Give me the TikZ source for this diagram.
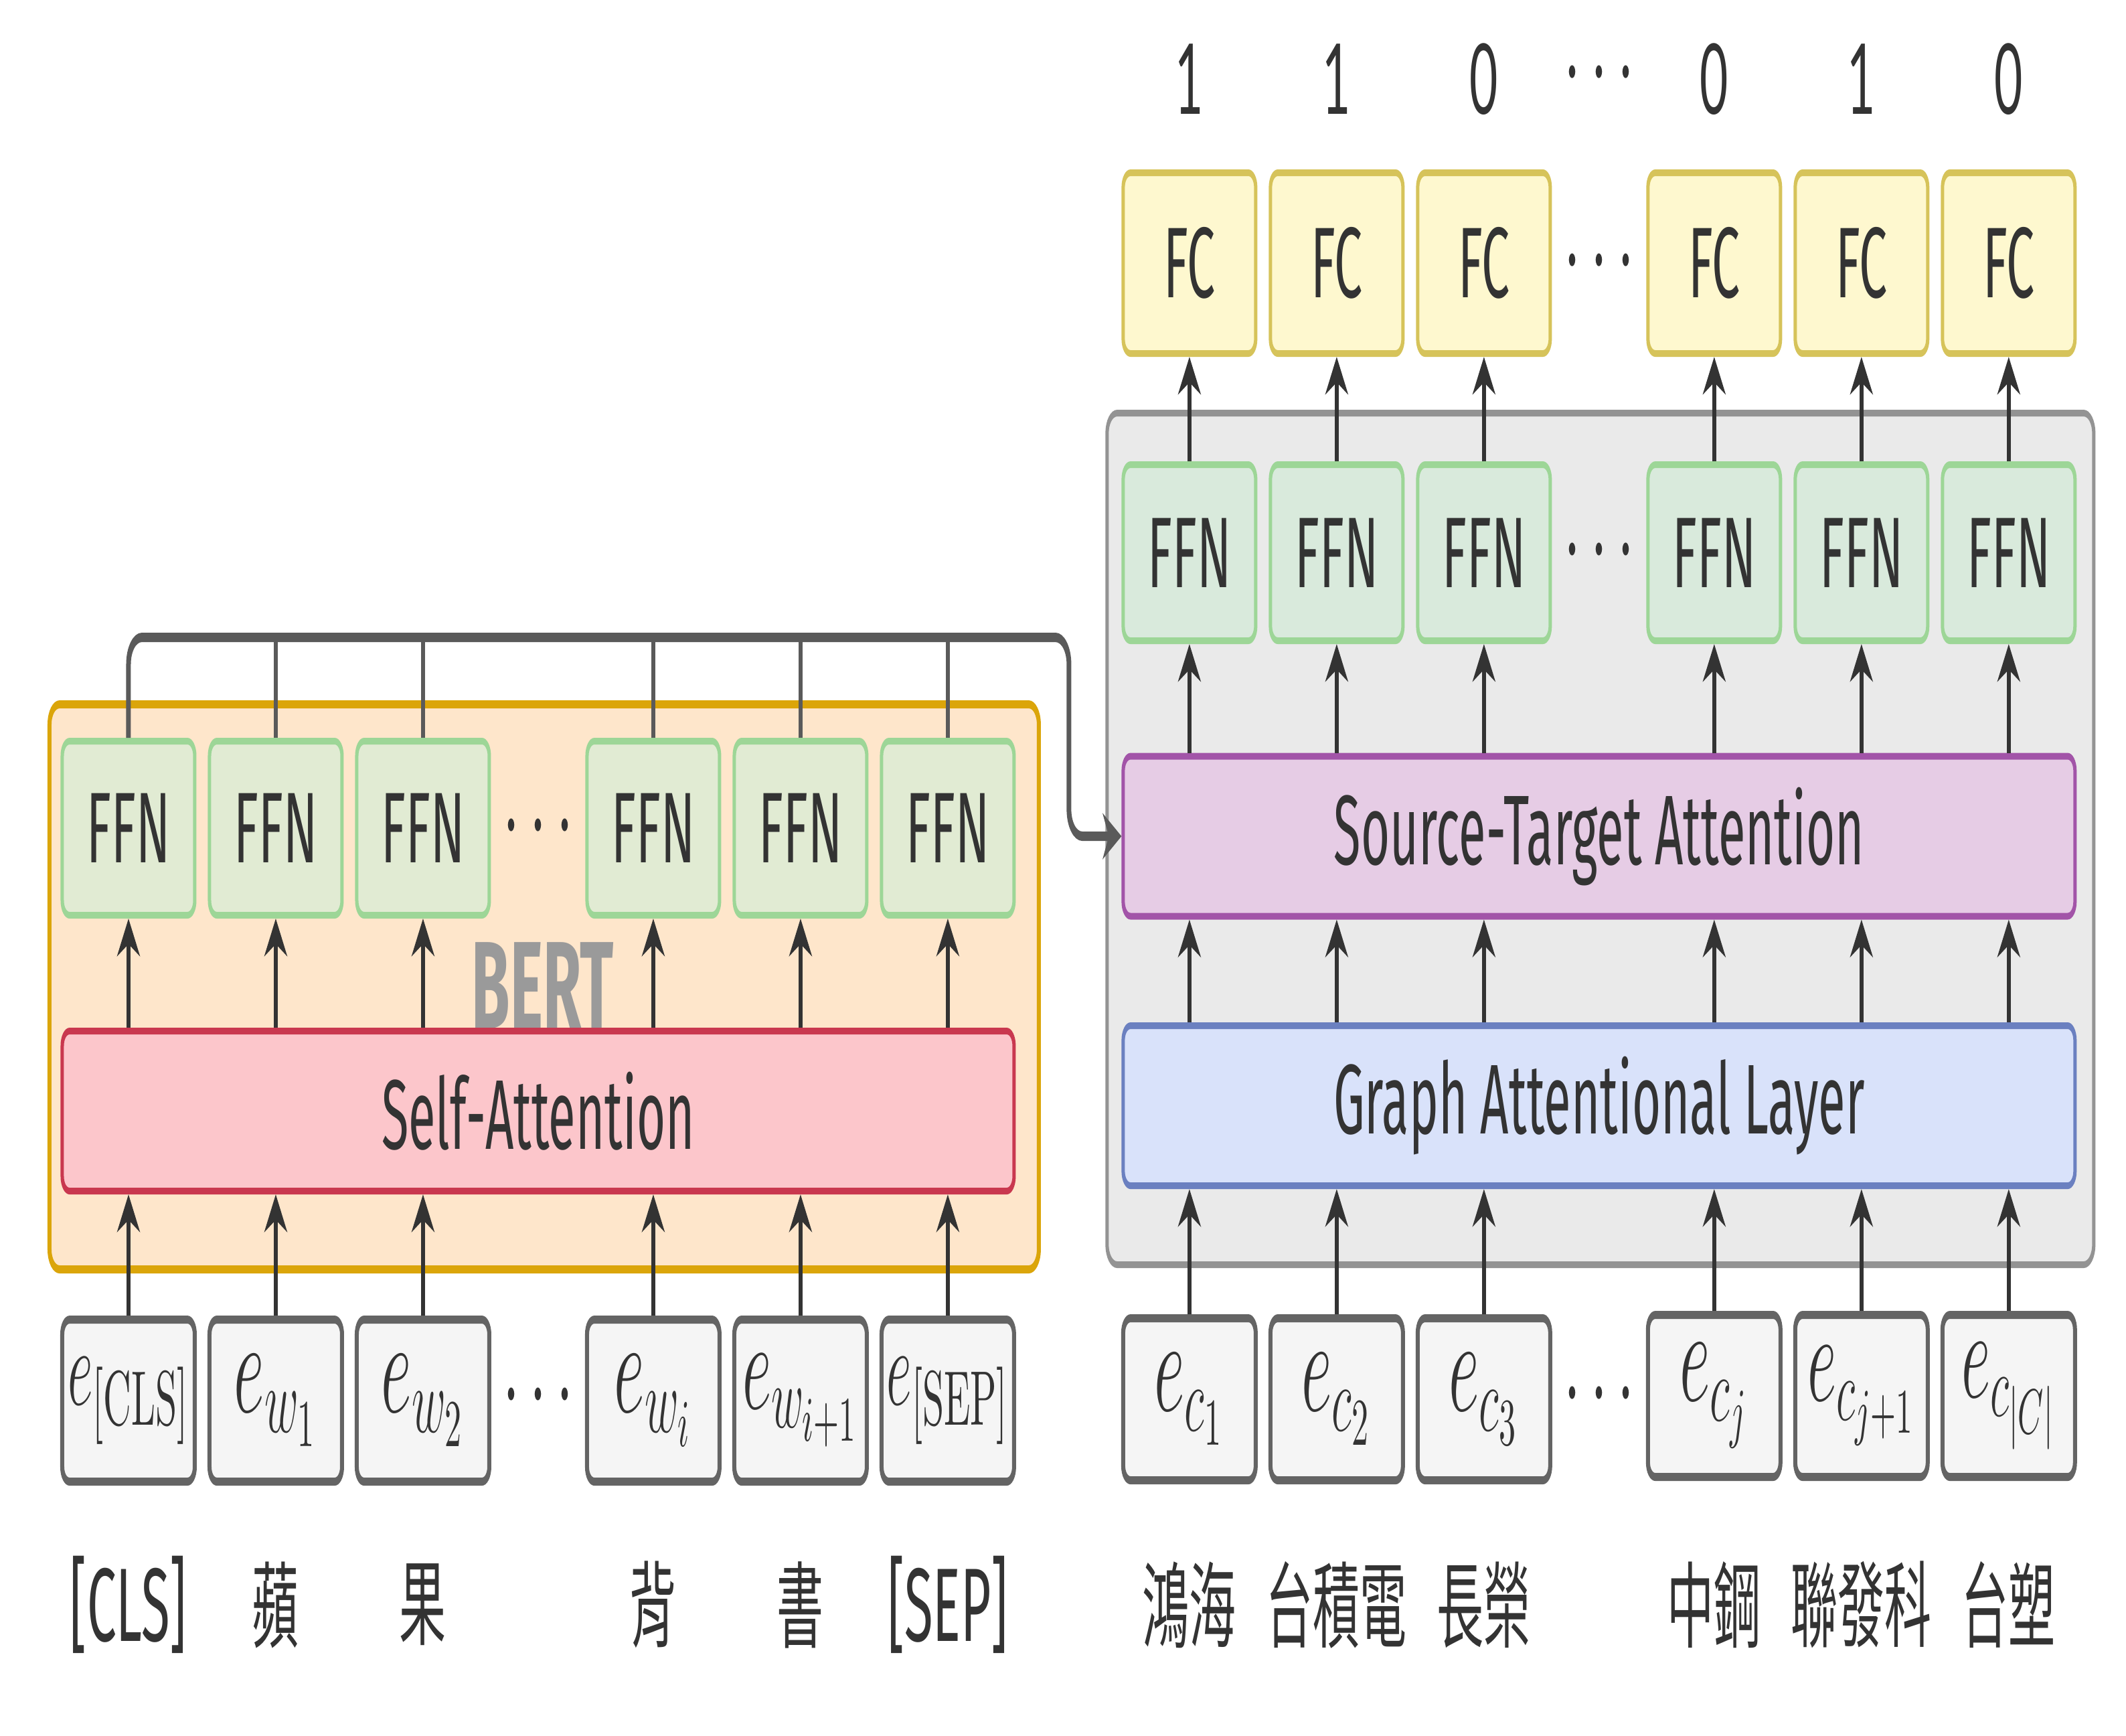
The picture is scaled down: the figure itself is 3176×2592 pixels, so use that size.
\RequirePackage{fix-cm}
\documentclass[tikz,border=0pt]{standalone}
\usepackage[no-math]{fontspec}
\setmainfont{Fira Sans}
\newfontfamily\cjk{Noto Sans CJK TC}
\newfontfamily\digitfont{Lato}
\usetikzlibrary{arrows.meta}
\definecolor{ffnfillL}{HTML}{E1EBD3}
\definecolor{ffnfillR}{HTML}{D9EADC}
\definecolor{ffnline}{HTML}{9DD697}
\definecolor{fcfill}{HTML}{FEF8CF}
\definecolor{fcline}{HTML}{D6C35A}
\definecolor{bertfill}{HTML}{FEE6CB}
\definecolor{bertline}{HTML}{DBA50A}
\definecolor{safill}{HTML}{FCC6CB}
\definecolor{saline}{HTML}{C9384F}
\definecolor{stfill}{HTML}{E6CCE5}
\definecolor{stline}{HTML}{A254A8}
\definecolor{galfill}{HTML}{D9E2FA}
\definecolor{galline}{HTML}{6B80C0}
\definecolor{grayfill}{HTML}{EAEAEA}
\definecolor{grayline}{HTML}{939393}
\definecolor{efill}{HTML}{F5F5F5}
\definecolor{eline}{HTML}{646464}
\definecolor{txt}{HTML}{333333}
\definecolor{arrc}{HTML}{333333}
\definecolor{connc}{HTML}{5A5A5A}
\definecolor{bertc}{HTML}{9A9A9A}
\tikzset{
  sbox/.style={draw, rounded corners=2.2pt, line width=1pt, minimum width=39.6pt,
    minimum height=26pt, inner sep=0pt, text=txt, font=\fontsize{15}{16}\selectfont},
  ffnL/.style={sbox, draw=ffnline, fill=ffnfillL},
  ffnR/.style={sbox, draw=ffnline, fill=ffnfillR, minimum height=26.3pt},
  fcbox/.style={sbox, draw=fcline, fill=fcfill, minimum height=27pt},
  ebox/.style={sbox, draw=eline, fill=efill, line width=1.2pt, minimum height=24.2pt},
  wide/.style={draw, rounded corners=2.2pt, line width=1pt, minimum width=284.4pt,
    minimum height=23.9pt, inner sep=0pt, text=txt, font=\fontsize{14.8}{16}\selectfont},
  container/.style={draw, rounded corners=3pt, inner sep=0pt},
  arr/.style={draw=arrc, line width=1.2pt, -{Stealth[length=5.6pt,width=6.8pt,inset=1.8pt]}},
  stem/.style={draw=connc, line width=1.1pt},
  conn/.style={draw=connc, line width=1.4pt, rounded corners=4pt,
    -{Stealth[length=5.6pt,width=6.8pt,inset=1.8pt]}},
  lab/.style={text=txt, inner sep=0pt, font=\fontsize{15.6}{18}\selectfont},
  cjklab/.style={text=txt, inner sep=0pt, font=\cjk\fontsize{14}{16}\selectfont},
  num/.style={text=txt, inner sep=0pt, font=\digitfont\fontsize{14.6}{16}\selectfont},
  dots/.style={text=txt, inner sep=0pt, font=\fontsize{18}{20}\selectfont},
}
\begin{document}
\begin{tikzpicture}[x=0.1pt,y=-0.1pt]
\fill[white] (0,0) rectangle (3176,2592);
\useasboundingbox (0,0) rectangle (3176,2592);
\begin{scope}[x=0.2pt,y=-0.1pt,transform canvas={xscale=0.5}]
% containers
\node[container, draw=bertline, fill=bertfill, line width=1.2pt,
  minimum width=295.6pt, minimum height=84.4pt] (bert) at (813,1474) {};
\node[container, draw=grayline, fill=grayfill, line width=1pt,
  minimum width=294.8pt, minimum height=127.2pt] (dec) at (2391,1253) {};
\node[text=bertc, inner sep=0pt, font=\bfseries\fontsize{18.6}{20}\selectfont] (bertlab) at (811,1472) {BERT};
% left side
\foreach \i/\x in {1/192,2/412,3/632,4/976,5/1196,6/1416}{
  \node[ffnL] (fl\i) at (\x,1237) {FFN};
}
\node[wide, draw=saline, fill=safill] (sa) at (804,1659.5) {Self-Attention};
\node[ebox] (el1) at (192,2092) {\fontsize{16.5}{20}\selectfont$e_{[\mathrm{CLS}]}$};
\node[ebox] (el2) at (412,2092) {\fontsize{20}{24}\selectfont$e_{w_1}$};
\node[ebox] (el3) at (632,2092) {\fontsize{20}{24}\selectfont$e_{w_2}$};
\node[ebox] (el4) at (976,2092) {\fontsize{20}{24}\selectfont$e_{w_i}$};
\node[ebox] (el5) at (1196,2092) {\fontsize{19}{23}\selectfont$e_{w_{i+1}}$};
\node[ebox] (el6) at (1416,2092) {\fontsize{16.5}{20}\selectfont$e_{[\mathrm{SEP}]}$};
\node[dots] (dfl) at (804,1237) {$\cdots$};
\node[dots] (del) at (804,2087) {$\cdots$};
\node[lab] (tl1) at (192,2397) {[CLS]};
\node[cjklab] (tl2) at (412,2397) {蘋};
\node[cjklab] (tl3) at (632,2397) {果};
\node[cjklab] (tl4) at (976,2397) {背};
\node[cjklab] (tl5) at (1196,2397) {書};
\node[lab] (tl6) at (1416,2397) {[SEP]};
% right side
\foreach \i/\x in {1/1777,2/1997,3/2217,4/2561,5/2781,6/3001}{
  \node[ffnR] (fr\i) at (\x,825.5) {FFN};
  \node[fcbox] (fc\i) at (\x,393) {FC};
}
\node[num] (n1) at (1777,118) {1};
\node[num] (n2) at (1997,118) {1};
\node[num] (n3) at (2217,118) {0};
\node[num] (n4) at (2561,118) {0};
\node[num] (n5) at (2781,118) {1};
\node[num] (n6) at (3001,118) {0};
\node[dots] (dn) at (2389,112) {$\cdots$};
\node[dots] (dfc) at (2389,393) {$\cdots$};
\node[dots] (dfr) at (2389,825) {$\cdots$};
\node[wide, draw=stline, fill=stfill] (st) at (2389,1249) {Source-Target Attention};
\node[wide, draw=galline, fill=galfill] (gal) at (2389,1651.5) {Graph Attentional Layer};
\node[ebox] (ec1) at (1777,2090) {\fontsize{20}{24}\selectfont$e_{c_1}$};
\node[ebox] (ec2) at (1997,2090) {\fontsize{20}{24}\selectfont$e_{c_2}$};
\node[ebox] (ec3) at (2217,2090) {\fontsize{20}{24}\selectfont$e_{c_3}$};
\node[ebox] (ec4) at (2561,2085) {\fontsize{20}{24}\selectfont$e_{c_j}$};
\node[ebox] (ec5) at (2781,2085) {\fontsize{19}{23}\selectfont$e_{c_{j+1}}$};
\node[ebox] (ec6) at (3001,2085) {\fontsize{19}{23}\selectfont$e_{c_{|C|}}$};
\node[dots] (dec2) at (2389,2085) {$\cdots$};
\node[cjklab] (tr1) at (1777,2397) {鴻海};
\node[cjklab] (tr2) at (1997,2397) {台積電};
\node[cjklab] (tr3) at (2217,2397) {長榮};
\node[cjklab] (tr4) at (2561,2397) {中鋼};
\node[cjklab] (tr5) at (2781,2397) {聯發科};
\node[cjklab] (tr6) at (3001,2397) {台塑};
% arrows
\foreach \i in {1,...,6}{
  \draw[arr] (el\i.north) -- (el\i.north |- sa.south);
  \draw[arr] (fl\i.south |- sa.north) -- (fl\i.south);
  \draw[arr] (ec\i.north) -- (ec\i.north |- gal.south);
  \draw[arr] (ec\i.north |- gal.north) -- (ec\i.north |- st.south);
  \draw[arr] (fr\i.south |- st.north) -- (fr\i.south);
  \draw[arr] (fr\i.north) -- (fc\i.south);
}
\coordinate (top) at (1597,952);
\foreach \i in {2,...,6}{
  \draw[stem] (fl\i.north) -- (fl\i.north |- top);
}
\draw[conn] (fl1.north) |- (top) |- (st.west);
\end{scope}
\end{tikzpicture}
\end{document}
